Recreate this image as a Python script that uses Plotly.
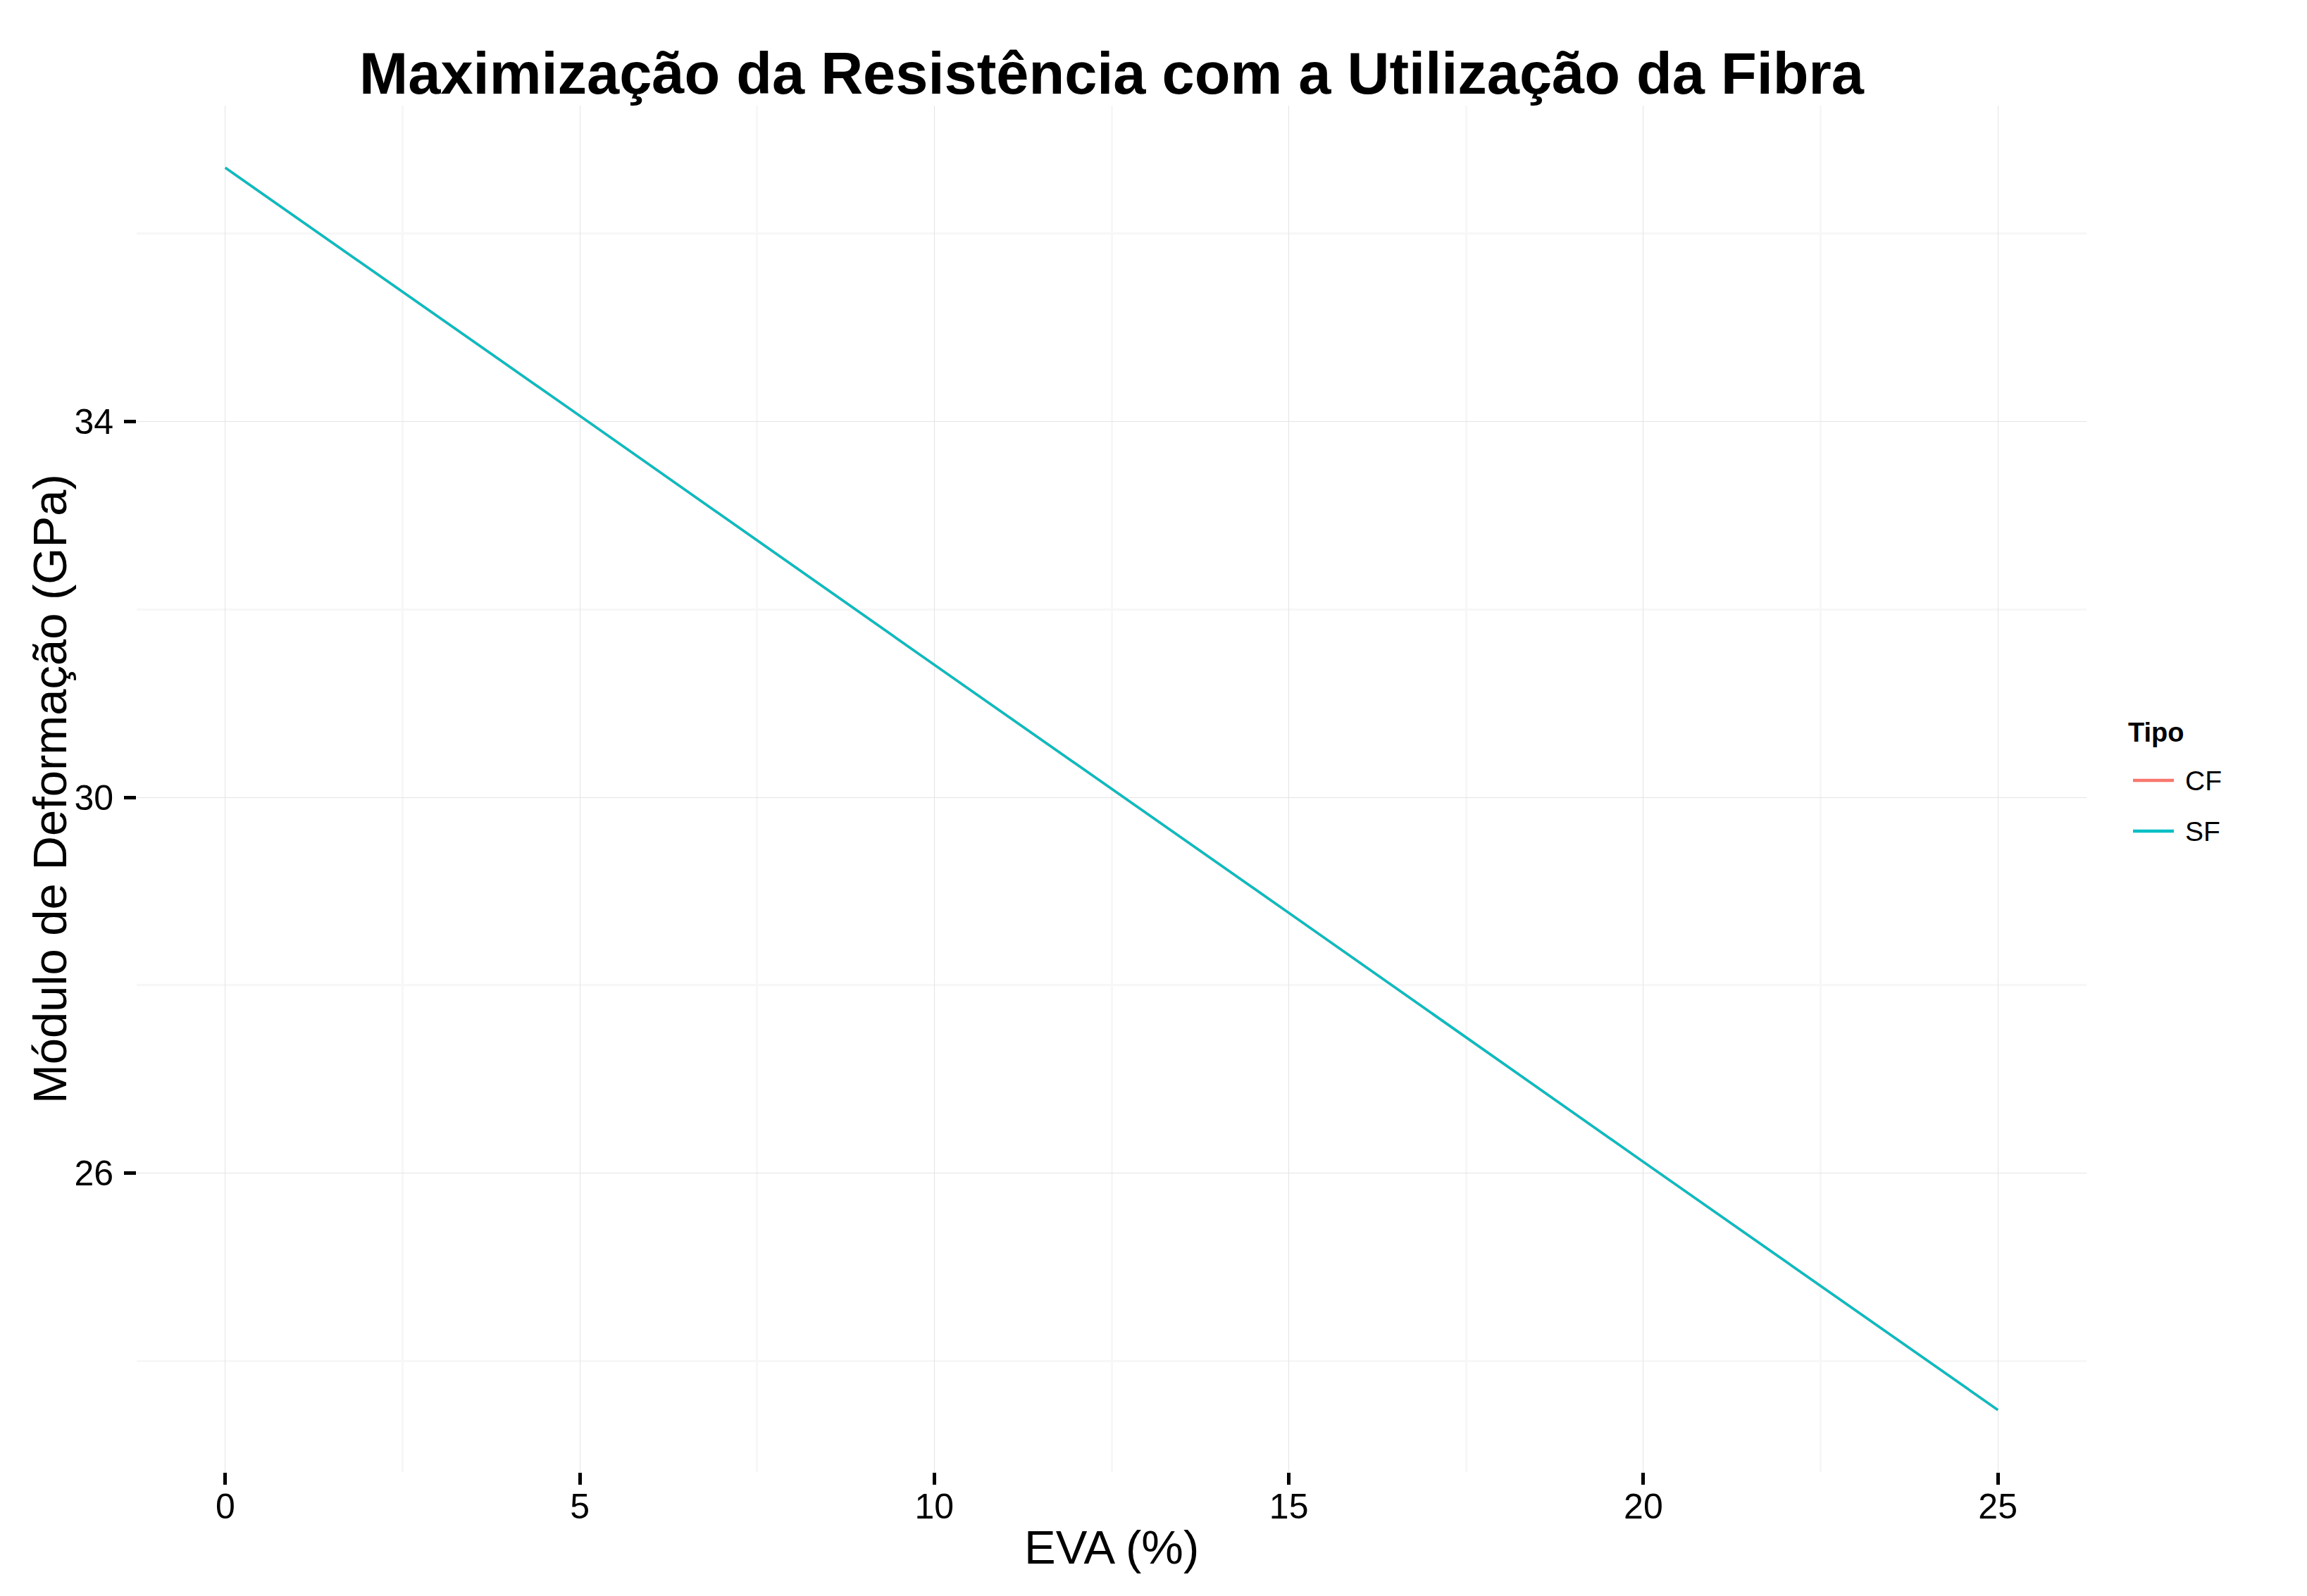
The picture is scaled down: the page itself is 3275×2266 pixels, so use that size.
import plotly.graph_objects as go

# ---- data ----
eva = [0, 5, 10, 15, 20, 25]
tipos = ["CF", "SF"]
cf_values = [36.70, 34.06, 31.41, 28.77, 26.12, 23.48]
sf_values = [36.70, 34.06, 31.41, 28.77, 26.12, 23.48]
series_colors = ["#F8766D", "#00BFC4"]
x_ticks = [0, 5, 10, 15, 20, 25]
y_ticks = [26, 30, 34]
x_minor = [2.5, 7.5, 12.5, 17.5, 22.5]
y_minor = [24, 28, 32, 36]

title_text = "Maximização da Resistência com a Utilização da Fibra"
x_title = "EVA (%)"
y_title = "Módulo de Deformação (GPa)"
legend_title = "Tipo"

FONT = "Liberation Sans, Arial, sans-serif"
W, H = 3275, 2266
ML, MR, MT, MB = 194, 313, 150, 176
pw = W - ML - MR
ph = H - MT - MB


def px_x(px):
    return (px - ML) / pw


def px_y(py):
    return (H - MB - py) / ph


fig = go.Figure()
for name, vals, col in zip(tipos, [cf_values, sf_values], series_colors):
    fig.add_trace(go.Scatter(x=eva, y=vals, mode="lines", name=name,
                             showlegend=False,
                             line=dict(color=col, width=3.5)))

# ggplot-like 5% expansion
xmin, xmax = min(eva), max(eva)
xd = (xmax - xmin) * 0.05
allv = cf_values + sf_values
ymin, ymax = min(allv), max(allv)
yd = (ymax - ymin) * 0.05

axis_common = dict(
    showline=False, zeroline=False,
    ticks="outside", ticklen=17, tickwidth=4.5, tickcolor="black",
    showgrid=True, gridcolor="#E4E4E4", gridwidth=1.2,
    tickfont=dict(family=FONT, size=50, color="black"),
)
fig.update_xaxes(range=[xmin - xd, xmax + xd], tickvals=x_ticks, ticklabelstandoff=-12,
                 minor=dict(tickvals=x_minor, showgrid=True, gridcolor="#F7F7F7",
                            gridwidth=3, ticks=""),
                 **axis_common)
fig.update_yaxes(range=[ymin - yd, ymax + yd], tickvals=y_ticks, ticklabelstandoff=5,
                 minor=dict(tickvals=y_minor, showgrid=True, gridcolor="#F7F7F7",
                            gridwidth=3, ticks=""),
                 **axis_common)

# manual ggplot-style legend
shapes = []
annotations = [
    dict(text=x_title, xref="paper", yref="paper", x=0.5,
         y=px_y(2196), xanchor="center", yanchor="middle",
         showarrow=False, font=dict(family=FONT, size=67, color="black")),
    dict(text=y_title, xref="paper", yref="paper", textangle=-90,
         x=px_x(70), y=0.5, xanchor="center", yanchor="middle",
         showarrow=False, font=dict(family=FONT, size=67, color="black")),
    dict(text="<b>" + legend_title + "</b>", xref="paper", yref="paper",
         x=px_x(3019), y=px_y(1040), xanchor="left", yanchor="middle",
         showarrow=False, font=dict(family=FONT, size=38, color="black")),
]
legend_rows = [1108, 1180]
for name, col, ly in zip(tipos, series_colors, legend_rows):
    shapes.append(dict(type="line", xref="paper", yref="paper",
                       x0=px_x(3028), x1=px_x(3086), y0=px_y(ly), y1=px_y(ly),
                       line=dict(color=col, width=4.3)))
    annotations.append(dict(text=name, xref="paper", yref="paper",
                            x=px_x(3100), y=px_y(ly), xanchor="left", yanchor="middle",
                            showarrow=False,
                            font=dict(family=FONT, size=39, color="black")))

fig.update_layout(
    width=W, height=H,
    margin=dict(l=ML, r=MR, t=MT, b=MB, pad=0),
    paper_bgcolor="white", plot_bgcolor="white",
    font=dict(family=FONT, color="black"),
    title=dict(text="<b>" + title_text + "</b>", x=0.5, xref="paper",
               y=1 - 104 / H, yref="container", yanchor="middle", xanchor="center",
               font=dict(family=FONT, size=83, color="black")),
    showlegend=False,
    shapes=shapes,
    annotations=annotations,
)

fig.write_html("out.html")
